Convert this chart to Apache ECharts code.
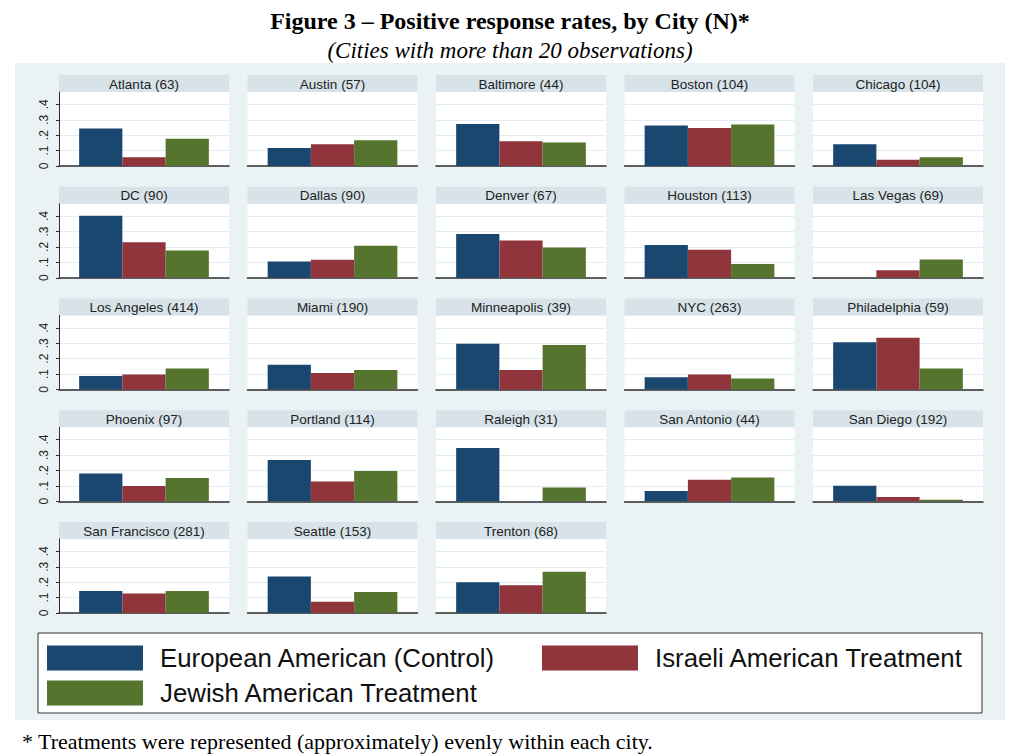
<!DOCTYPE html>
<html>
<head>
<meta charset="utf-8">
<script src="https://cdn.jsdelivr.net/npm/echarts@6/dist/echarts.min.js"></script>
<style>
html,body{margin:0;padding:0;background:#fff;}
#chart{width:1020px;height:755px;}
</style>
</head>
<body>
<div id="chart"></div>
<script>
const cities = ['Atlanta (63)','Austin (57)','Baltimore (44)','Boston (104)','Chicago (104)',
  'DC (90)','Dallas (90)','Denver (67)','Houston (113)','Las Vegas (69)',
  'Los Angeles (414)','Miami (190)','Minneapolis (39)','NYC (263)','Philadelphia (59)',
  'Phoenix (97)','Portland (114)','Raleigh (31)','San Antonio (44)','San Diego (192)',
  'San Francisco (281)','Seattle (153)','Trenton (68)'];
const european = [0.243,0.117,0.272,0.263,0.141, 0.402,0.106,0.284,0.212,0,
  0.087,0.160,0.297,0.080,0.306, 0.180,0.267,0.345,0.067,0.101, 0.143,0.236,0.200];
const israeli = [0.057,0.141,0.161,0.246,0.041, 0.230,0.117,0.241,0.181,0.049,
  0.098,0.107,0.126,0.098,0.336, 0.099,0.128,0,0.140,0.028, 0.127,0.073,0.180];
const jewish = [0.176,0.167,0.152,0.270,0.057, 0.177,0.207,0.197,0.089,0.118,
  0.137,0.126,0.288,0.071,0.137, 0.151,0.196,0.090,0.154,0.009, 0.143,0.136,0.268];
const seriesNames = ['European American (Control)','Israeli American Treatment','Jewish American Treatment'];
const yTicks = [0,0.1,0.2,0.3,0.4];
const yTickLabels = ['0','.1','.2','.3','.4'];

const colors = ['#1a476f','#90353b','#55752f'];
const chart = echarts.init(document.getElementById('chart'), null, {renderer:'svg'});

const grids=[], xAxes=[], yAxes=[], series=[], graphics=[];
graphics.push({type:'rect', z:-10, shape:{x:15,y:63,width:990,height:657}, style:{fill:'#eaf2f3'}, silent:true});
graphics.push({type:'rect', shape:{x:38,y:633,width:944,height:80}, style:{fill:'#fff',stroke:'#333',lineWidth:1}, silent:true});
const valueSets=[european,israeli,jewish];
cities.forEach((city,i)=>{
  const r=Math.floor(i/5), c=i%5;
  const x=59+c*188.5, top=75+r*111.75;
  grids.push({left:x, top:top+17, width:170, height:74, show:true, backgroundColor:'#fff', borderWidth:0});
  graphics.push({type:'rect', shape:{x:x,y:top,width:170,height:17}, style:{fill:'#d7e3e9'}, silent:true});
  graphics.push({type:'text', x:x+85, y:top+9, style:{text:city, fill:'#222', font:'13.5px "Liberation Sans", Arial, sans-serif', align:'center', verticalAlign:'middle'}, silent:true});
  xAxes.push({type:'category', gridIndex:i, data:[city], axisLabel:{show:false}, axisTick:{show:false},
    axisLine:{show:true, lineStyle:{color:'#2e2e2e', width:1.5}}, splitLine:{show:false}});
  yAxes.push({type:'value', gridIndex:i, min:0, max:0.48, interval:0.1,
    axisLine:{show:c===0, lineStyle:{color:'#2e2e2e', width:1}},
    axisTick:{show:c===0, length:3, inside:false, customValues:yTicks, lineStyle:{color:'#2e2e2e'}},
    axisLabel:{show:c===0, rotate:90, margin:9, customValues:yTicks, color:'#222', fontSize:12,
      fontFamily:'"Liberation Sans", Arial, sans-serif',
      formatter:(v)=>{const k=yTicks.findIndex(t=>Math.abs(t-v)<1e-6); return k>=0?yTickLabels[k]:'';}},
    splitLine:{show:true, lineStyle:{color:'#e3ecf0', width:1}}});
  valueSets.forEach((vals,s)=>{
    series.push({type:'bar', name:seriesNames[s], xAxisIndex:i, yAxisIndex:i, data:[vals[i]],
      barGap:'0%', barCategoryGap:'23.7%', itemStyle:{color:colors[s]}, silent:true});
  });
});

const legendCommon = {orient:'horizontal', icon:'rect', itemWidth:96, itemHeight:25, padding:0,
  textStyle:{fontSize:25.8, color:'#111', fontFamily:'"Liberation Sans", Arial, sans-serif', padding:[0,0,0,12]},
  selectedMode:false};
const legends = [
  Object.assign({left:47, top:645, data:[seriesNames[0]]}, legendCommon),
  Object.assign({left:542, top:645, data:[seriesNames[1]]}, legendCommon),
  Object.assign({left:47, top:680, data:[seriesNames[2]]}, legendCommon)
];

chart.setOption({
  animation:false,
  backgroundColor:'#fff',
  title:[
    {text:'Figure 3 – Positive response rates, by City (N)*', left:'center', top:4,
      textStyle:{fontFamily:'"Liberation Serif", "Times New Roman", serif', fontWeight:'bold', fontSize:24, color:'#000'}},
    {text:'(Cities with more than 20 observations)', left:'center', top:34,
      textStyle:{fontFamily:'"Liberation Serif", "Times New Roman", serif', fontStyle:'italic', fontWeight:'normal', fontSize:23, color:'#000'}},
    {text:'* Treatments were represented (approximately) evenly within each city.', left:17, top:725,
      textStyle:{fontFamily:'"Liberation Serif", "Times New Roman", serif', fontWeight:'normal', fontSize:22, color:'#000'}}
  ],
  legend:legends,
  grid:grids, xAxis:xAxes, yAxis:yAxes, series:series,
  graphic:graphics
});
</script>
</body>
</html>
